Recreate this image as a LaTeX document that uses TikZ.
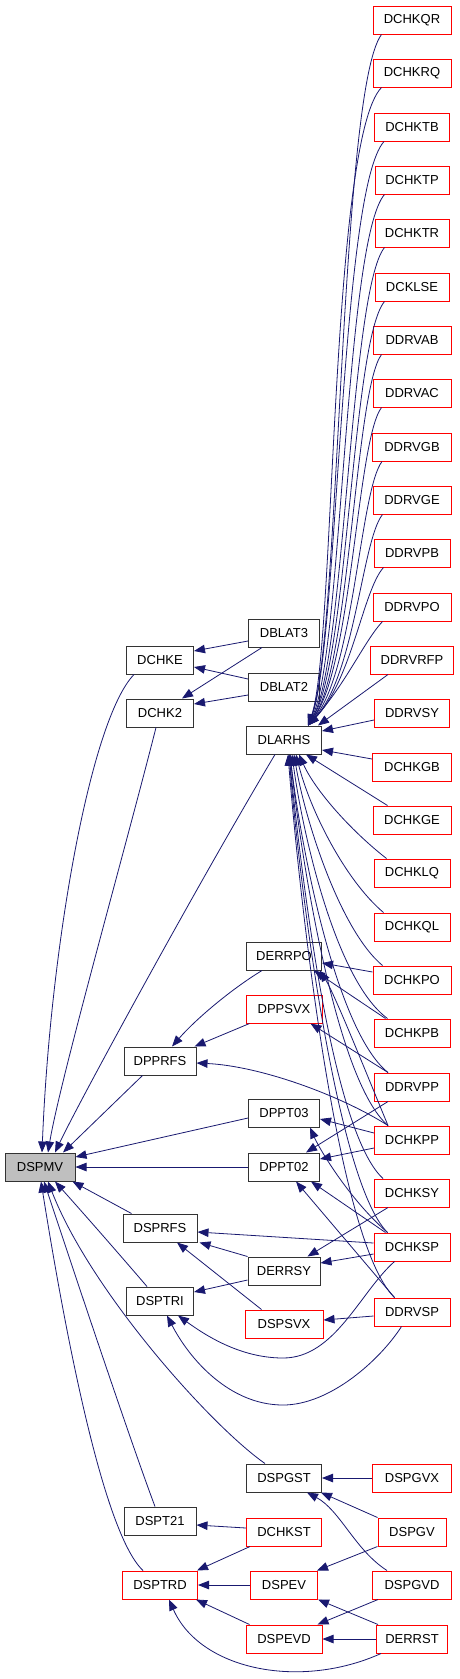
\documentclass[tikz,border=0pt]{standalone}
\usepackage{fontspec}
\setmainfont{Liberation Sans}
\usetikzlibrary{arrows.meta,calc}
\definecolor{edgec}{HTML}{191970}
\definecolor{redc}{HTML}{FF0000}
\definecolor{boxc}{HTML}{333333}
\definecolor{grayf}{HTML}{BFBFBF}
\tikzset{
  box/.style={draw, line width=1pt, rectangle, minimum height=28pt, inner sep=0pt, fill=white,
    font=\fontsize{13}{15}\selectfont},
  bk/.style={box, draw=boxc},
  rd/.style={box, draw=redc},
  e/.style={draw=edgec, line width=0.8pt, -{Triangle[length=11pt,width=8.5pt]}}
}
\begin{document}
\begin{tikzpicture}[x=1pt,y=-1pt]
\useasboundingbox (0,0) rectangle (459,1679);
\fill[white] (0,0) rectangle (459,1679);
% right column
\node[rd, minimum width=78pt] (DCHKQR) at (412,20) {DCHKQR};
\node[rd, minimum width=78pt] (DCHKRQ) at (412,73) {DCHKRQ};
\node[rd, minimum width=75pt] (DCHKTB) at (412,127) {DCHKTB};
\node[rd, minimum width=74pt] (DCHKTP) at (412,180) {DCHKTP};
\node[rd, minimum width=74pt] (DCHKTR) at (412,233) {DCHKTR};
\node[rd, minimum width=74pt] (DCKLSE) at (412,287) {DCKLSE};
\node[rd, minimum width=78pt] (DDRVAB) at (412,340) {DDRVAB};
\node[rd, minimum width=78pt] (DDRVAC) at (412,393) {DDRVAC};
\node[rd, minimum width=79pt] (DDRVGB) at (412,447) {DDRVGB};
\node[rd, minimum width=78pt] (DDRVGE) at (412,500) {DDRVGE};
\node[rd, minimum width=76pt] (DDRVPB) at (412,553) {DDRVPB};
\node[rd, minimum width=78pt] (DDRVPO) at (412,607) {DDRVPO};
\node[rd, minimum width=83pt] (DDRVRFP) at (412,660) {DDRVRFP};
\node[rd, minimum width=75pt] (DDRVSY) at (412,713) {DDRVSY};
\node[rd, minimum width=79pt] (DCHKGB) at (412,767) {DCHKGB};
\node[rd, minimum width=78pt] (DCHKGE) at (412,820) {DCHKGE};
\node[rd, minimum width=76pt] (DCHKLQ) at (412,873) {DCHKLQ};
\node[rd, minimum width=76pt] (DCHKQL) at (412,927) {DCHKQL};
\node[rd, minimum width=78pt] (DCHKPO) at (412,980) {DCHKPO};
\node[rd, minimum width=76pt] (DCHKPB) at (412,1033) {DCHKPB};
\node[rd, minimum width=75pt] (DDRVPP) at (412,1087) {DDRVPP};
\node[rd, minimum width=75pt] (DCHKPP) at (412,1140) {DCHKPP};
\node[rd, minimum width=75pt] (DCHKSY) at (412,1193) {DCHKSY};
\node[rd, minimum width=76pt] (DCHKSP) at (412,1247) {DCHKSP};
\node[rd, minimum width=76pt] (DDRVSP) at (412,1312) {DDRVSP};
\node[rd, minimum width=79pt] (DSPGVX) at (412,1478) {DSPGVX};
\node[rd, minimum width=68pt] (DSPGV) at (412,1532) {DSPGV};
\node[rd, minimum width=79pt] (DSPGVD) at (412,1585) {DSPGVD};
\node[rd, minimum width=71pt] (DERRST) at (412,1639) {DERRST};
% middle column
\node[bk, minimum width=71pt] (DBLAT3) at (284,633) {DBLAT3};
\node[bk, minimum width=71pt] (DBLAT2) at (284,687) {DBLAT2};
\node[bk, minimum width=75pt] (DLARHS) at (284,740) {DLARHS};
\node[bk, minimum width=75pt] (DERRPO) at (284,956) {DERRPO};
\node[rd, minimum width=76pt] (DPPSVX) at (284,1009) {DPPSVX};
\node[bk, minimum width=71pt] (DPPT03) at (284,1113) {DPPT03};
\node[bk, minimum width=71pt] (DPPT02) at (284,1167) {DPPT02};
\node[bk, minimum width=72pt] (DERRSY) at (284,1271) {DERRSY};
\node[rd, minimum width=78pt] (DSPSVX) at (284,1324) {DSPSVX};
\node[bk, minimum width=75pt] (DSPGST) at (284,1478) {DSPGST};
\node[rd, minimum width=75pt] (DCHKST) at (284,1532) {DCHKST};
\node[rd, minimum width=67pt] (DSPEV) at (284,1585) {DSPEV};
\node[rd, minimum width=76pt] (DSPEVD) at (284,1639) {DSPEVD};
% left column
\node[bk, minimum width=67pt] (DCHKE) at (160,660) {DCHKE};
\node[bk, minimum width=67pt] (DCHK2) at (160,713) {DCHK2};
\node[bk, minimum width=72pt] (DPPRFS) at (160,1061) {DPPRFS};
\node[bk, minimum width=74pt] (DSPRFS) at (160,1228) {DSPRFS};
\node[bk, minimum width=67pt] (DSPTRI) at (160,1301) {DSPTRI};
\node[bk, minimum width=72pt] (DSPT21) at (160,1521) {DSPT21};
\node[rd, minimum width=75pt] (DSPTRD) at (160,1585) {DSPTRD};
% root
\node[bk, minimum width=70pt, fill=grayf] (DSPMV) at (40,1167) {DSPMV};

% ---- edges into DLARHS (top bundle)
\draw[e] ($(DCHKQR.south west)+(9,0)$) .. controls (340,90) and (340,640) .. ($(DLARHS.north)+(24,0)$);
\draw[e] ($(DCHKRQ.south west)+(9,0)$) .. controls (330,140) and (335,650) .. ($(DLARHS.north)+(24,0)$);
\draw[e] ($(DCHKTB.south west)+(10,0)$) .. controls (340,190) and (338,650) .. ($(DLARHS.north)+(24,0)$);
\draw[e] ($(DCHKTP.south west)+(10,0)$) .. controls (345,240) and (342,655) .. ($(DLARHS.north)+(24,0)$);
\draw[e] ($(DCHKTR.south west)+(10,0)$) .. controls (350,290) and (345,660) .. ($(DLARHS.north)+(24,0)$);
\draw[e] ($(DCKLSE.south west)+(10,0)$) .. controls (352,340) and (348,660) .. ($(DLARHS.north)+(24,0)$);
\draw[e] ($(DDRVAB.south west)+(9,0)$) .. controls (355,390) and (350,665) .. ($(DLARHS.north)+(24,0)$);
\draw[e] ($(DDRVAC.south west)+(9,0)$) .. controls (357,440) and (352,665) .. ($(DLARHS.north)+(24,0)$);
\draw[e] ($(DDRVGB.south west)+(10,0)$) .. controls (360,490) and (354,670) .. ($(DLARHS.north)+(24,0)$);
\draw[e] ($(DDRVGE.south west)+(10,0)$) .. controls (362,540) and (355,675) .. ($(DLARHS.north)+(24,0)$);
\draw[e] ($(DDRVPB.south west)+(10,0)$) .. controls (363,590) and (352,680) .. ($(DLARHS.north)+(24,0)$);
\draw[e] ($(DDRVPO.south west)+(10,0)$) .. controls (365,640) and (345,685) .. ($(DLARHS.north)+(24,0)$);
\draw[e] ($(DDRVRFP.south west)+(18,0)$) -- ($(DLARHS.north east)+(-4,0)$);
\draw[e] ($(DDRVSY.west)+(0,7)$) -- ($(DLARHS.east)+(0,-9)$);
\draw[e] ($(DCHKGB.west)+(0,-8)$) -- ($(DLARHS.east)+(0,10)$);
\draw[e] ($(DCHKGE.north west)+(15,0)$) -- ($(DLARHS.south)+(22,0)$);
% bottom bundle into DLARHS
\draw[e] ($(DCHKLQ.north west)+(13,0)$) .. controls (350,830) and (315,790) .. ($(DLARHS.south)+(15,0)$);
\draw[e] ($(DCHKQL.north west)+(10,0)$) .. controls (345,880) and (310,810) .. ($(DLARHS.south)+(12,0)$);
\draw[e] ($(DCHKPO.north west)+(10,0)$) .. controls (340,930) and (305,820) .. ($(DLARHS.south)+(10,0)$);
\draw[e] ($(DCHKPB.north west)+(14,0)$) .. controls (335,980) and (302,830) .. ($(DLARHS.south)+(8,0)$);
\draw[e] ($(DDRVPP.north west)+(14,0)$) .. controls (335,1030) and (300,840) .. ($(DLARHS.south)+(6,0)$);
\draw[e] ($(DCHKPP.north west)+(14,0)$) .. controls (335,1080) and (300,850) .. ($(DLARHS.south)+(6,0)$);
\draw[e] ($(DCHKSY.north west)+(9,0)$) .. controls (330,1130) and (300,860) .. ($(DLARHS.south)+(5,0)$);
\draw[e] ($(DCHKSP.north west)+(14,0)$) .. controls (335,1180) and (298,870) .. ($(DLARHS.south)+(5,0)$);
\draw[e] ($(DDRVSP.north west)+(21,0)$) .. controls (335,1240) and (298,880) .. ($(DLARHS.south)+(4,0)$);

% ---- edges into DSPMV
\draw[e] ($(DCHKE.south west)+(8,0)$) .. controls (90,720) and (50,950) .. ($(DSPMV.north)+(2,0)$);
\draw[e] ($(DCHK2.south)+(-4,0)$) .. controls (125,850) and (60,1080) .. ($(DSPMV.north)+(8,0)$);
\draw[e] ($(DLARHS.south west)+(29,0)$) .. controls (200,880) and (80,1100) .. ($(DSPMV.north)+(15,0)$);
\draw[e] ($(DPPRFS.south west)+(19,0)$) -- ($(DSPMV.north)+(23,0)$);
\draw[e] ($(DPPT03.west)+(0,5)$) -- ($(DSPMV.east)+(0,-10)$);
\draw[e] (DPPT02.west) -- (DSPMV.east);
\draw[e] ($(DSPRFS.north west)+(9,0)$) -- ($(DSPMV.south east)+(-3,0)$);
\draw[e] ($(DSPTRI.north)+(-13,0)$) .. controls (120,1255) and (85,1215) .. ($(DSPMV.south)+(15,0)$);
\draw[e] ($(DSPGST.north west)+(19,0)$) .. controls (210,1425) and (90,1290) .. ($(DSPMV.south)+(8,0)$);
\draw[e] ($(DSPT21.north)+(-5,0)$) .. controls (130,1440) and (70,1260) .. ($(DSPMV.south)+(4,0)$);
\draw[e] ($(DSPTRD.north)+(-17,0)$) .. controls (100,1530) and (60,1300) .. ($(DSPMV.south)+(1,0)$);

% ---- DBLAT edges
\draw[e] ($(DBLAT3.west)+(0,8)$) -- ($(DCHKE.east)+(0,-9)$);
\draw[e] ($(DBLAT2.west)+(0,-8)$) -- ($(DCHKE.east)+(0,7)$);
\draw[e] ($(DBLAT3.south west)+(14,0)$) -- ($(DCHK2.north)+(22,0)$);
\draw[e] ($(DBLAT2.west)+(0,8)$) -- ($(DCHK2.east)+(0,-9)$);

% ---- DERRPO / DPPSVX / DPPRFS
\draw[e] ($(DCHKPO.west)+(0,-8)$) -- ($(DERRPO.east)+(0,7)$);
\draw[e] ($(DCHKPB.north west)+(12,0)$) -- ($(DERRPO.south east)+(-8,0)$);
\draw[e] ($(DCHKPP.north west)+(14,0)$) .. controls (365,1070) and (335,995) .. ($(DERRPO.south east)+(-2,0)$);
\draw[e] ($(DDRVPP.north west)+(14,0)$) -- ($(DPPSVX.south east)+(-12,0)$);
\draw[e] ($(DERRPO.south west)+(16,0)$) .. controls (230,990) and (195,1020) .. ($(DPPRFS.north)+(12,0)$);
\draw[e] ($(DPPSVX.south west)+(4,0)$) -- ($(DPPRFS.north east)+(-2,0)$);
\draw[e] ($(DCHKPP.north west)+(14,0)$) .. controls (340,1095) and (260,1066) .. ($(DPPRFS.east)+(0,2)$);

% ---- DPPT03 / DPPT02
\draw[e] ($(DCHKPP.west)+(0,-7)$) -- ($(DPPT03.east)+(0,6)$);
\draw[e] ($(DCHKPP.west)+(0,8)$) -- ($(DPPT02.east)+(0,-8)$);
\draw[e] ($(DDRVPP.south west)+(14,0)$) -- ($(DPPT02.north east)+(-14,0)$);
\draw[e] ($(DCHKSP.north west)+(14,0)$) .. controls (350,1200) and (320,1150) .. ($(DPPT03.south east)+(-10,0)$);
\draw[e] ($(DCHKSP.north west)+(12,0)$) -- ($(DPPT02.south east)+(-9,0)$);
\draw[e] ($(DDRVSP.north west)+(21,0)$) -- ($(DPPT02.south)+(12,0)$);

% ---- DERRSY / DSPRFS / DSPTRI / DSPSVX
\draw[e] ($(DCHKSY.south west)+(14,0)$) -- ($(DERRSY.north east)+(-13,0)$);
\draw[e] ($(DCHKSP.west)+(0,7)$) -- ($(DERRSY.east)+(0,-8)$);
\draw[e] ($(DCHKSP.west)+(0,-4)$) -- ($(DSPRFS.east)+(0,4)$);
\draw[e] (DERRSY.north west) -- ($(DSPRFS.south east)+(2,0)$);
\draw[e] ($(DSPSVX.north west)+(17,0)$) -- ($(DSPRFS.south)+(17,0)$);
\draw[e] ($(DERRSY.west)+(0,9)$) -- ($(DSPTRI.east)+(0,-9)$);
\draw[e] ($(DCHKSP.south west)+(21,0)$) .. controls (360,1292) and (335,1358) .. (283,1358) .. controls (240,1358) and (205,1335) .. ($(DSPTRI.south)+(18,0)$);
\draw[e] ($(DDRVSP.south west)+(28,0)$) .. controls (380,1360) and (330,1405) .. (283,1405) .. controls (230,1405) and (190,1360) .. ($(DSPTRI.south)+(7,0)$);
\draw[e] ($(DDRVSP.west)+(0,4)$) -- ($(DSPSVX.east)+(0,-4)$);

% ---- DSPGST / DSPT21 / DSPTRD / DSPEV / DSPEVD
\draw[e] (DSPGVX.west) -- (DSPGST.east);
\draw[e] (DSPGV.north west) -- ($(DSPGST.south east)+(-1,0)$);
\draw[e] ($(DSPGVD.north west)+(15,0)$) .. controls (355,1550) and (340,1510) .. ($(DSPGST.south)+(23,0)$);
\draw[e] ($(DCHKST.west)+(0,-4)$) -- ($(DSPT21.east)+(0,4)$);
\draw[e] ($(DCHKST.south west)+(4,0)$) -- ($(DSPTRD.north east)+(-1,0)$);
\draw[e] (DSPEV.west) -- (DSPTRD.east);
\draw[e] ($(DSPEVD.north west)+(4,0)$) -- ($(DSPTRD.south east)+(-2,0)$);
\draw[e] ($(DERRST.south west)+(5,0)$) .. controls (300,1690) and (200,1670) .. ($(DSPTRD.south)+(9,0)$);
\draw[e] (DSPGV.south west) -- ($(DSPEV.north east)+(-1,0)$);
\draw[e] ($(DERRST.north west)+(2,0)$) -- (DSPEV.south east);
\draw[e] ($(DSPGVD.south west)+(6,0)$) -- ($(DSPEVD.north east)+(-5,0)$);
\draw[e] (DERRST.west) -- (DSPEVD.east);
\end{tikzpicture}
\end{document}
